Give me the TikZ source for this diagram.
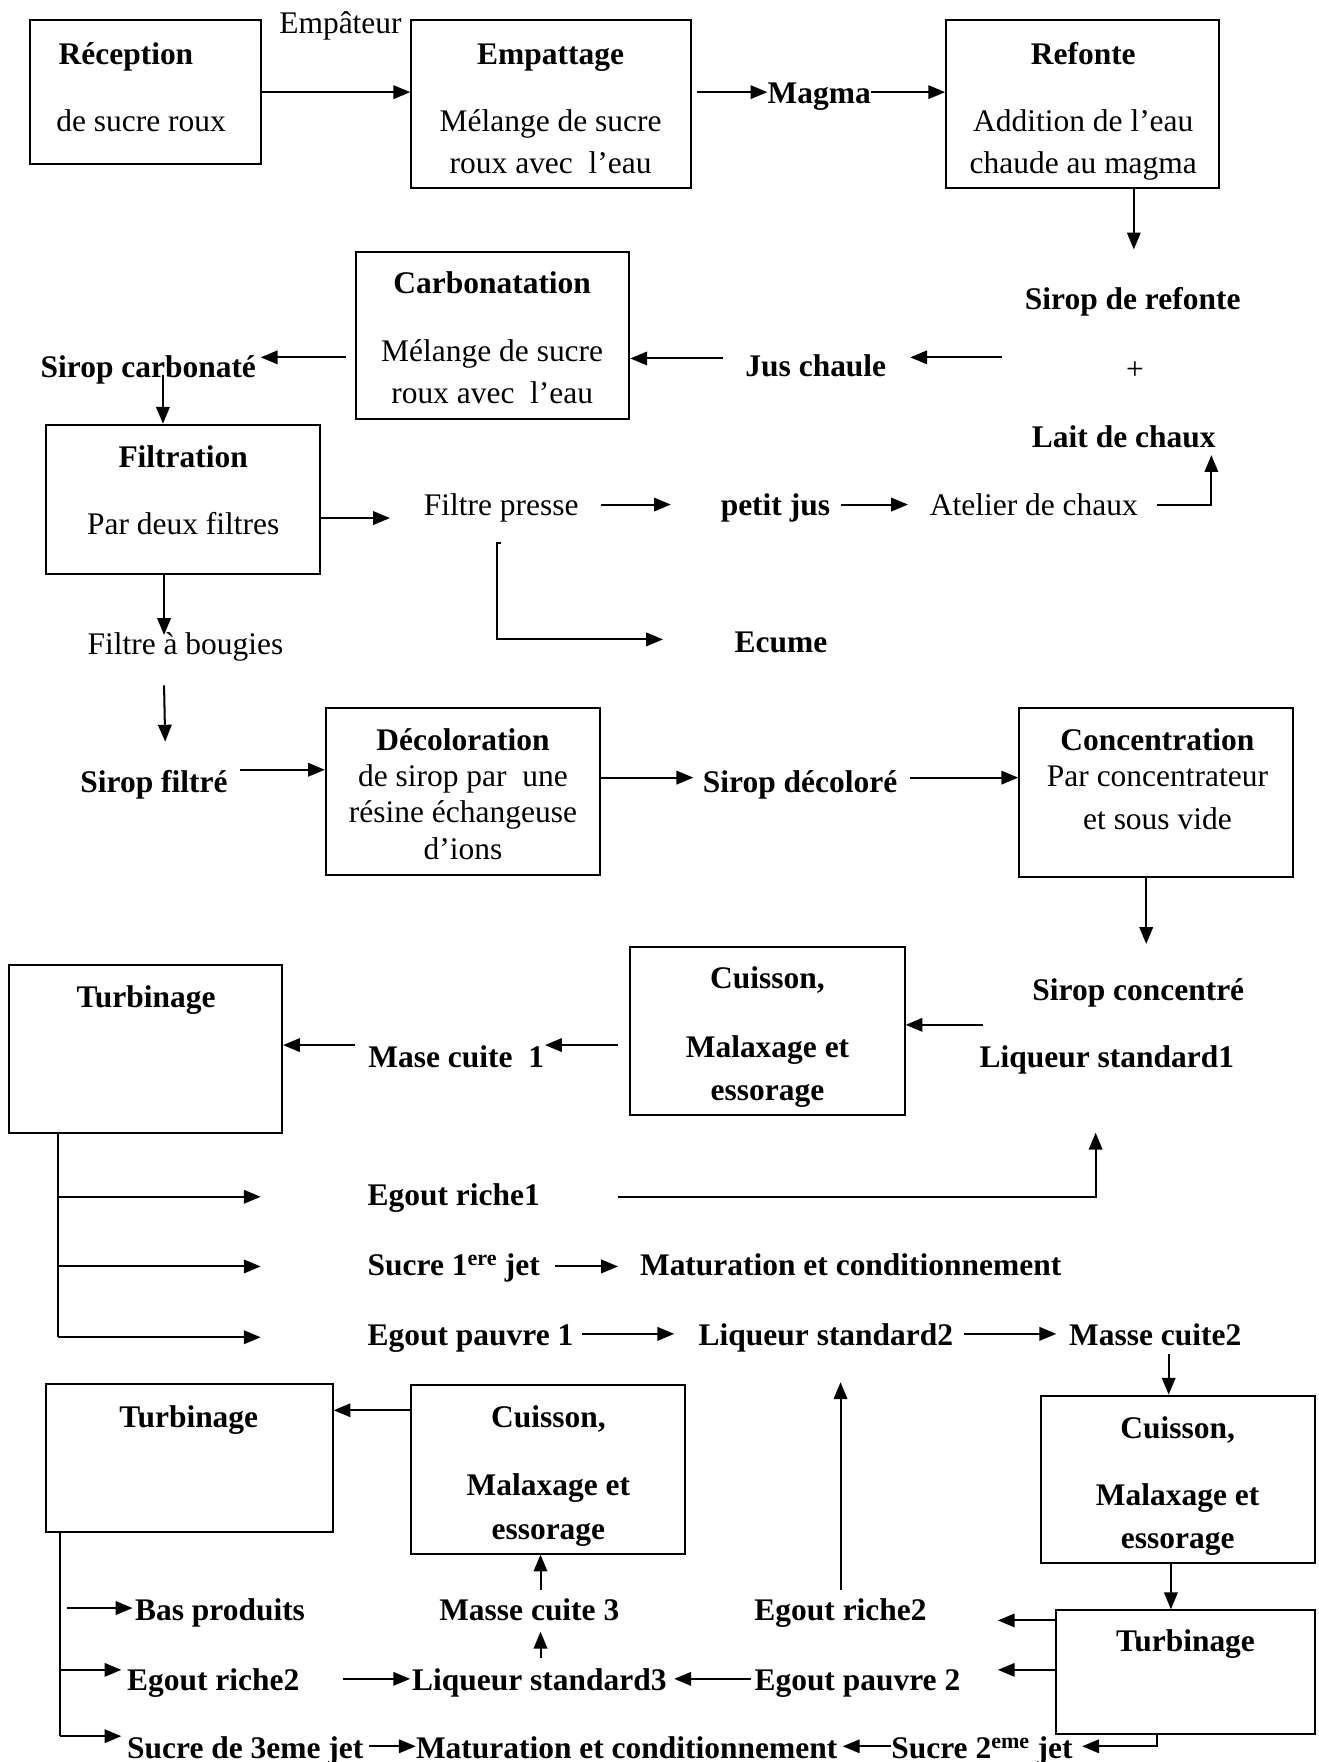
\documentclass[tikz,border=0pt]{standalone}
\usepackage{fontspec}
\setmainfont{Liberation Serif}
\usetikzlibrary{arrows.meta,calc}
\begin{document}
\begin{tikzpicture}[x=1pt,y=-1pt,
  every node/.style={font=\fontsize{28}{33}\selectfont, inner sep=0pt, text height=24pt, text depth=4pt},
  box/.style={draw, line width=1.8pt, rectangle, text height=, text depth=},
  b/.style={font=\fontsize{28}{33}\selectfont\bfseries},
  arr/.style={line width=1.8pt, -{Triangle[length=15pt,width=12pt]}},
  ln/.style={line width=1.8pt}]
\useasboundingbox (0,0) rectangle (1173,1568);

% ---------- boxes ----------
\node[box, minimum width=205pt, minimum height=128pt] (recep)   at (129.5,82) {};
\node[box, minimum width=249pt, minimum height=149pt] (empat)   at (490.5,92.5) {};
\node[box, minimum width=243pt, minimum height=149pt] (refonte) at (963.5,92.5) {};
\node[box, minimum width=243pt, minimum height=149pt] (carbo)   at (438.5,298.5) {};
\node[box, minimum width=244pt, minimum height=133pt] (filtr)   at (163,444.5) {};
\node[box, minimum width=244pt, minimum height=149pt] (decol)   at (412,704.5) {};
\node[box, minimum width=244pt, minimum height=150pt] (conc)    at (1029,705) {};
\node[box, minimum width=244pt, minimum height=149pt] (cuis1)   at (683,917.5) {};
\node[box, minimum width=243pt, minimum height=149pt] (turb1)   at (129.5,933.5) {};
\node[box, minimum width=244pt, minimum height=149pt] (cuis2)   at (1048,1316.5) {};
\node[box, minimum width=230pt, minimum height=110pt] (turb3)   at (1055,1488) {};
\node[box, minimum width=244pt, minimum height=150pt] (cuis3)   at (488,1307.5) {};
\node[box, minimum width=255pt, minimum height=131pt] (turb2)   at (168.5,1297.5) {};

% ---------- texts in boxes ----------
\node[b, anchor=west] (recepA) at (52,47) {Réception};
\node[anchor=west] (recepB) at (50,107) {de sucre roux};
\node[b] (empatA) at (490,47) {Empattage};
\node (empatB) at (490,107) {Mélange de sucre};
\node (empatC) at (490,144) {roux avec\ \ l’eau};
\node[b] (refA) at (964,47) {Refonte};
\node (refB) at (964,107) {Addition de l’eau};
\node (refC) at (964,144) {chaude au magma};
\node[b] (carA) at (438,251) {Carbonatation};
\node (carB) at (438,312) {Mélange de sucre};
\node (carC) at (438,349) {roux avec\ \ l’eau};
\node[b] (filA) at (163,406) {Filtration};
\node (filB) at (163,466) {Par deux filtres};
\node[b] (decA) at (412,658) {Décoloration};
\node (decB) at (412,690) {de sirop par\ \ une};
\node (decC) at (412,722) {résine échangeuse};
\node (decD) at (412,755) {d’ions};
\node[b] (conA) at (1030,658) {Concentration};
\node (conB) at (1030,690) {Par concentrateur};
\node (conC) at (1030,728) {et sous vide};
\node[b] (cu1A) at (683,870) {Cuisson,};
\node[b] (cu1B) at (683,931) {Malaxage et};
\node[b] (cu1C) at (683,969) {essorage};
\node[b] (tu1A) at (130,887) {Turbinage};
\node[b] (cu2A) at (1048,1270) {Cuisson,};
\node[b] (cu2B) at (1048,1330) {Malaxage et};
\node[b] (cu2C) at (1048,1368) {essorage};
\node[b] (tu3A) at (1055,1460) {Turbinage};
\node[b] (cu3A) at (488,1260) {Cuisson,};
\node[b] (cu3B) at (488,1321) {Malaxage et};
\node[b] (cu3C) at (488,1360) {essorage};
\node[b] (tu2A) at (168,1260) {Turbinage};

% ---------- free labels ----------
\node (empateur) at (303,20) {Empâteur};
\node[b] (magma) at (729,82) {Magma};
\node[b] (sirref) at (1008,265) {Sirop de refonte};
\node (plus) at (1010,328) {+};
\node[b] (lait) at (1000,388) {Lait de chaux};
\node[b] (jus) at (726,325) {Jus chaule};
\node[b] (sirc) at (132,326) {Sirop carbonaté};
\node (fpresse) at (446,449) {Filtre presse};
\node[b] (pjus) at (690,449) {petit jus};
\node (atelier) at (920,449) {Atelier de chaux};
\node[b] (ecume) at (695,571) {Ecume};
\node (fbougies) at (165,572) {Filtre à bougies};
\node[b] (sirf) at (137,695) {Sirop filtré};
\node[b] (sird) at (712,695) {Sirop décoloré};
\node[b] (sirco) at (1013,880) {Sirop concentré};
\node[b] (liq1) at (985,940) {Liqueur standard1};
\node[b] (mc1) at (406,940) {Mase cuite\ \ 1};
\node[b, anchor=west] (er1) at (327,1063) {Egout riche1};
\node[b, anchor=west] (s1) at (327,1125) {Sucre 1\textsuperscript{ere} jet};
\node[b] (mat1) at (757,1125) {Maturation et conditionnement};
\node[b, anchor=west] (ep1) at (327,1187) {Egout pauvre 1};
\node[b] (liq2) at (735,1187) {Liqueur standard2};
\node[b] (mc2) at (1028,1187) {Masse cuite2};
\node[b] (er2r) at (748,1432) {Egout riche2};
\node[b] (ep2) at (763,1494) {Egout pauvre 2};
\node[b] (liq3) at (480,1494) {Liqueur standard3};
\node[b] (mc3) at (471,1432) {Masse cuite 3};
\node[b, anchor=west] (bas) at (120,1432) {Bas produits};
\node[b, anchor=west] (er2l) at (113,1494) {Egout riche2};
\node[b, anchor=west] (s3) at (113,1555) {Sucre de 3eme jet};
\node[b, anchor=west] (mat2) at (370,1555) {Maturation et conditionnement};
\node[b, anchor=west] (s2) at (793,1555) {Sucre 2\textsuperscript{eme} jet};

% ---------- coordinates for free ends ----------
\coordinate (c2s) at (620,82);
\coordinate (c4e) at (1009,222);
\coordinate (c5s) at (892,318);
\coordinate (c5e) at (810,318);
\coordinate (c6s) at (643,319);
\coordinate (c7s) at (308,318);
\coordinate (c7e) at (232,318);
\coordinate (c8s) at (145,334);
\coordinate (c9e) at (347,461);
\coordinate (c10s) at (535,449);
\coordinate (c10e) at (597,449);
\coordinate (c11s) at (748,449);
\coordinate (c11e) at (808,449);
\coordinate (c12s) at (1030,449);
\coordinate (c12e) at (1078,405);
\coordinate (c13a) at (446,483);
\coordinate (c13e) at (590,569);
\coordinate (c14e) at (146,565);
\coordinate (c15s) at (146,610);
\coordinate (c15e) at (147,660);
\coordinate (c16s) at (214,685);
\coordinate (c17e) at (617,692);
\coordinate (c18s) at (810,692);
\coordinate (c19e) at (1020,840);
\coordinate (c20s) at (875,912);
\coordinate (c21s) at (550,930);
\coordinate (c21e) at (485,930);
\coordinate (c22s) at (316,930);
\coordinate (tr1) at (52,1190);
\coordinate (b1s) at (52,1065);
\coordinate (b1e) at (232,1065);
\coordinate (b2s) at (52,1127);
\coordinate (b2e) at (232,1127);
\coordinate (b3e) at (232,1190);
\coordinate (c24s) at (550,1065);
\coordinate (c24e) at (975,1008);
\coordinate (c25s) at (494,1127);
\coordinate (c25e) at (550,1127);
\coordinate (c26s) at (518,1187);
\coordinate (c26e) at (600,1187);
\coordinate (c27s) at (858,1187);
\coordinate (c27e) at (940,1187);
\coordinate (c28s) at (1040,1205);
\coordinate (c29) at (1042,1391);
\coordinate (c30e) at (888,1442);
\coordinate (c31e) at (888,1486);
\coordinate (c32) at (1030,1554);
\coordinate (c32e) at (963,1554);
\coordinate (c33s) at (793,1554);
\coordinate (c33e) at (750,1554);
\coordinate (c34s) at (748,1415);
\coordinate (c34e) at (748,1230);
\coordinate (c35s) at (668,1494);
\coordinate (c35e) at (600,1494);
\coordinate (c36s) at (481,1475);
\coordinate (c36e) at (481,1452);
\coordinate (c37s) at (481,1415);
\coordinate (c38) at (330,1255);
\coordinate (tr2) at (53,1545);
\coordinate (d2s) at (53,1486);
\coordinate (d2e) at (108,1486);
\coordinate (d3e) at (108,1545);
\coordinate (c40s) at (60,1431);
\coordinate (c40e) at (118,1431);
\coordinate (c41s) at (305,1494);
\coordinate (c41e) at (365,1494);
\coordinate (c42s) at (328,1554);
\coordinate (c42e) at (370,1554);

% ---------- connectors ----------
\draw[arr] (recep.east) -- (recep.east -| empat.west);
\draw[arr] (c2s) -- (magma.west);
\draw[arr] (magma.east) -- (magma.east -| refonte.west);
\draw[arr] (refonte.south -| c4e) -- (c4e);
\draw[arr] (c5s) -- (c5e);
\draw[arr] (c6s) -- (c6s -| carbo.east);
\draw[arr] (c7s) -- (c7e);
\draw[arr] (c8s) -- (c8s |- filtr.north);
\draw[arr] (filtr.east |- c9e) -- (c9e);
\draw[arr] (c10s) -- (c10e);
\draw[arr] (c11s) -- (c11e);
\draw[arr] (c12s) -| (c12e);
\draw[arr] (c13a) -- ++(-4,0) |- (c13e);
\draw[arr] (c14e |- filtr.south) -- (c14e);
\draw[arr] (c15s) -- (c15e);
\draw[arr] (c16s) -- (c16s -| decol.west);
\draw[arr] (decol.east |- c17e) -- (c17e);
\draw[arr] (c18s) -- (c18s -| conc.west);
\draw[arr] (conc.south -| c19e) -- (c19e);
\draw[arr] (c20s) -- (c20s -| cuis1.east);
\draw[arr] (c21s) -- (c21e);
\draw[arr] (c22s) -- (c22s -| turb1.east);
\draw[ln] (tr1 |- turb1.south) -- (tr1);
\draw[arr] (b1s) -- (b1e);
\draw[arr] (b2s) -- (b2e);
\draw[arr] (tr1) -- (b3e);
\draw[arr] (c24s) -| (c24e);
\draw[arr] (c25s) -- (c25e);
\draw[arr] (c26s) -- (c26e);
\draw[arr] (c27s) -- (c27e);
\draw[arr] (c28s) -- (c28s |- cuis2.north);
\draw[arr] (c29) -- (c29 |- turb3.north);
\draw[arr] (turb3.west |- c30e) -- (c30e);
\draw[arr] (turb3.west |- c31e) -- (c31e);
\draw[arr] (turb3.south -| c32) |- (c32e);
\draw[arr] (c33s) -- (c33e);
\draw[arr] (c34s) -- (c34e);
\draw[arr] (c35s) -- (c35e);
\draw[arr] (c36s) -- (c36e);
\draw[arr] (c37s) -- (c37s |- cuis3.south);
\draw[arr] (cuis3.west |- c38) -- (c38 -| turb2.east);
\draw[ln] (tr2 |- turb2.south) -- (tr2);
\draw[arr] (d2s) -- (d2e);
\draw[arr] (tr2) -- (d3e);
\draw[arr] (c40s) -- (c40e);
\draw[arr] (c41s) -- (c41e);
\draw[arr] (c42s) -- (c42e);
\end{tikzpicture}
\end{document}
